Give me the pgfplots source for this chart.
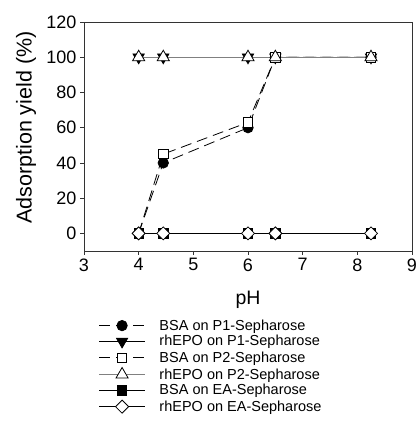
\documentclass[border=0pt]{standalone}
\usepackage{pgfplots}
\pgfplotsset{compat=1.18}
\usepackage{fontspec}
\setmainfont{Liberation Sans}
\begin{document}
\begin{tikzpicture}
\useasboundingbox (0,0) rectangle (417pt,423pt);
\begin{axis}[
 at={(84pt,172pt)}, anchor=south west,
 scale only axis, width=328pt, height=229pt,
 xmin=3, xmax=9, ymin=-10, ymax=120,
 xtick={3,4,5,6,7,8,9}, ytick={0,20,40,60,80,100,120},
 tick align=outside, tick pos=left, major tick length=4pt,
 /pgf/number format/assume math mode=true,
 tick label style={font=\fontsize{18}{21}\selectfont},
 xlabel={pH}, ylabel={Adsorption yield (\%)},
 xlabel style={font=\fontsize{19.5}{22}\selectfont, at={(axis description cs:0.5,-0.214)}, anchor=center},
 ylabel style={font=\fontsize{21.5}{24}\selectfont, at={(axis description cs:-0.177,0.539)}, anchor=center},
 axis line style={line width=0.8pt, black!80},
 every tick/.style={black!80, line width=0.8pt},
 legend style={at={(axis description cs:0.035,-0.29)}, anchor=north west, draw=none, fill=none,
   font=\fontsize{14.5}{17.4}\selectfont, row sep=3.8pt, column sep=14pt,
   nodes={inner ysep=0pt, inner xsep=0pt}},
 legend cell align=left,
 legend image code/.code={\draw[mark repeat=2,mark phase=2,#1] plot coordinates {(0pt,0pt)(23pt,0pt)(46pt,0pt)};},
]
\addplot[black, line width=0.8pt, dash pattern=on 11pt off 6pt, mark=*, mark size=5.2pt, mark options={solid, fill=black}]
 coordinates {(4,0)(4.45,40)(6,60)(6.5,100)(8.25,100)};
\addlegendentry{BSA on P1-Sepharose}
\addplot[black, line width=0.8pt, solid, mark=triangle*, mark size=6.5pt, mark options={solid, rotate=180, fill=black}]
 coordinates {(4,100)(4.45,100)(6,100)(6.5,100)(8.25,100)};
\addlegendentry{rhEPO on P1-Sepharose}
\addplot[black, line width=0.8pt, dash pattern=on 11pt off 6pt, mark=square*, mark size=4.7pt, mark options={solid, fill=white, draw=black}]
 coordinates {(4,0)(4.45,45)(6,63)(6.5,100)(8.25,100)};
\addlegendentry{BSA on P2-Sepharose}
\addplot[gray, line width=0.8pt, solid, mark=triangle*, mark size=7pt, mark options={solid, fill=white, draw=black}]
 coordinates {(4,100)(4.45,100)(6,100)(6.5,100)(8.25,100)};
\addlegendentry{rhEPO on P2-Sepharose}
\addplot[black, line width=0.8pt, solid, mark=square*, mark size=4.7pt, mark options={solid, fill=black}]
 coordinates {(4,0)(4.45,0)(6,0)(6.5,0)(8.25,0)};
\addlegendentry{BSA on EA-Sepharose}
\addplot[black, line width=0.8pt, solid, mark=square*, mark size=4.6pt, mark options={solid, rotate=45, fill=white, draw=black}]
 coordinates {(4,0)(4.45,0)(6,0)(6.5,0)(8.25,0)};
\addlegendentry{rhEPO on EA-Sepharose}
\end{axis}
\end{tikzpicture}
\end{document}
